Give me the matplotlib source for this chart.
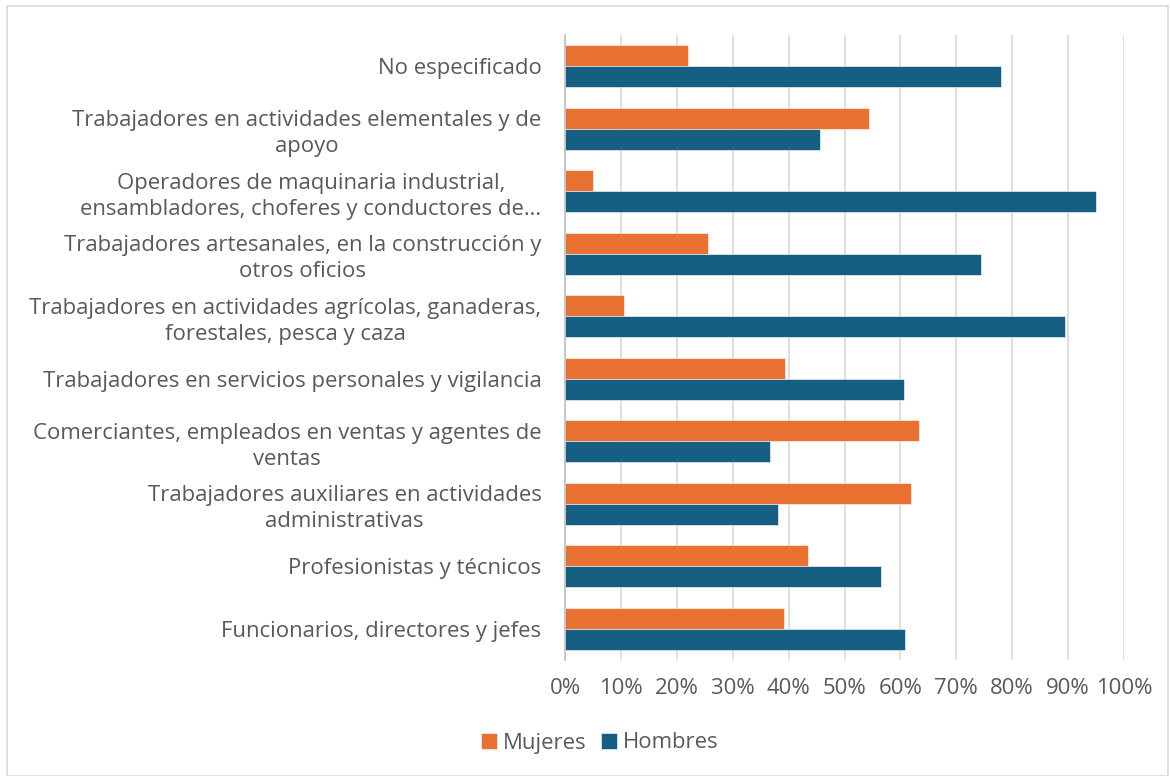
import matplotlib
matplotlib.use("Agg")
import matplotlib.pyplot as plt
from matplotlib.patches import Rectangle
import numpy as np

categories = [
    "No especificado",
    "Trabajadores en actividades elementales y de\napoyo",
    "Operadores de maquinaria industrial,\nensambladores, choferes y conductores de…",
    "Trabajadores artesanales, en la construcción y\notros oficios",
    "Trabajadores en actividades agrícolas, ganaderas,\nforestales, pesca y caza",
    "Trabajadores en servicios personales y vigilancia",
    "Comerciantes, empleados en ventas y agentes de\nventas",
    "Trabajadores auxiliares en actividades\nadministrativas",
    "Profesionistas y técnicos",
    "Funcionarios, directores y jefes",
]
mujeres = [22.0, 54.4, 5.0, 25.6, 10.6, 39.4, 63.3, 61.9, 43.5, 39.2]
hombres = [78.0, 45.6, 95.0, 74.4, 89.4, 60.6, 36.7, 38.1, 56.5, 60.8]
xticks = [0, 10, 20, 30, 40, 50, 60, 70, 80, 90, 100]

plt.rcParams['font.family'] = ['Open Sans', 'DejaVu Sans']
text_color = '#595959'
c_m = '#E97132'
c_h = '#156082'

fig = plt.figure(figsize=(11.7, 7.76), dpi=100)
ax = fig.add_axes([565/1170, 1-660/776, (1124-565)/1170, (660-35)/776])

y = np.arange(len(categories))
h = 0.335
ax.barh(y - h/2, mujeres, height=h, color=c_m, edgecolor='white', linewidth=0.4, label='Mujeres', zorder=3)
ax.barh(y + h/2, hombres, height=h, color=c_h, edgecolor='white', linewidth=0.4, label='Hombres', zorder=3)

ax.set_ylim(len(categories) - 0.5, -0.5)
ax.set_xlim(0, 100)
ax.set_yticks(y)
ax.set_yticklabels(categories, fontsize=15.9, color=text_color, ha='right',
                   multialignment='center', linespacing=1.3)
ax.set_xticks(xticks)
ax.set_xticklabels([f"{v}%" for v in xticks], fontsize=15.9, color=text_color)
ax.tick_params(axis='y', length=0, pad=17)
ax.tick_params(axis='x', length=0, pad=13)
ax.grid(axis='x', color='#D9D9D9', linewidth=1.2, zorder=0)
for s in ['top', 'right', 'bottom']:
    ax.spines[s].set_visible(False)
ax.spines['left'].set_color('#BFBFBF')
ax.spines['left'].set_linewidth(1.2)
ax.spines['left'].set_zorder(4)

leg = fig.legend(loc='center', bbox_to_anchor=(600/1170, 1-743/776), ncol=2, frameon=False,
                 fontsize=15.9, handlelength=0.7, handleheight=0.7, handletextpad=0.3, columnspacing=0.65)
for t in leg.get_texts():
    t.set_color(text_color)

fig.patches.append(Rectangle((7/1170, 0.5/776), (1168-7)/1170, (770-0.5)/776, transform=fig.transFigure,
                             fill=False, edgecolor='#D9D9D9', linewidth=1.2))

fig.savefig('out.png', dpi=100)
